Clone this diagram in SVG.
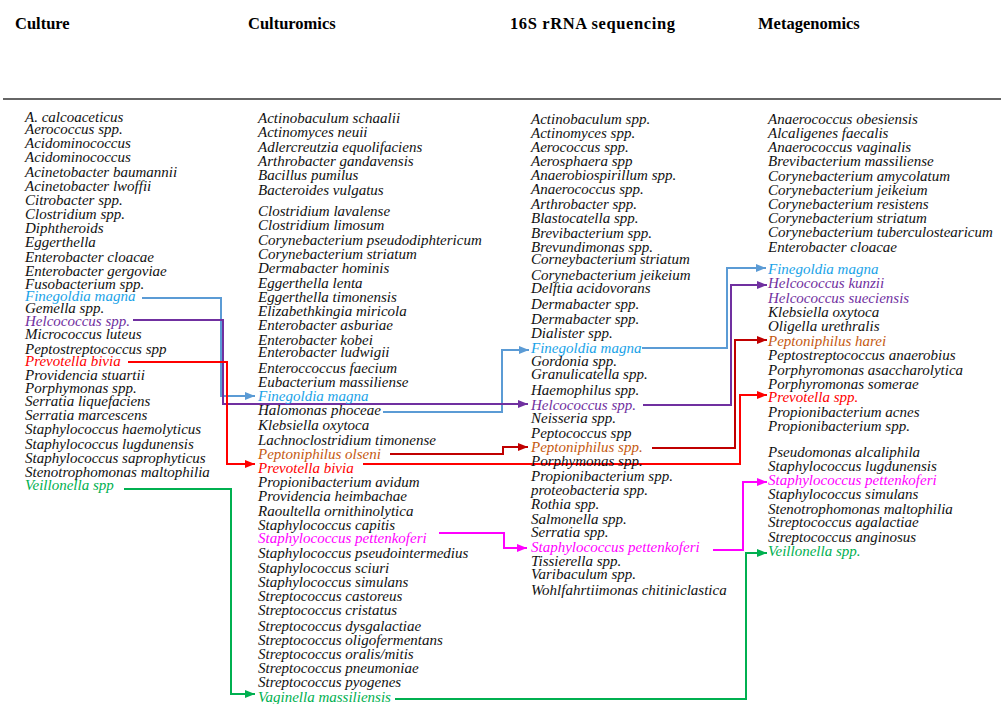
<svg xmlns="http://www.w3.org/2000/svg" width="1001" height="704" viewBox="0 0 1001 704">
<style>
text{font-family:"Liberation Serif","Times New Roman",serif;font-size:15px;font-style:italic;fill:#111}
.h{font-style:normal;font-weight:bold;font-size:16.5px;fill:#000}
.fb{fill:#1aa3e8}.pu{fill:#7030a0}.rd{fill:#ff0000}.or{fill:#c55a11}.mg{fill:#ff00ff}.gr{fill:#00b050}
.c{fill:none;stroke-width:2}
</style>
<defs>
<marker id="aB" markerWidth="10" markerHeight="8" refX="10" refY="4" orient="auto" markerUnits="userSpaceOnUse"><path d="M0,0L10,4L0,8z" fill="#5b9bd5"/></marker>
<marker id="aP" markerWidth="10" markerHeight="8" refX="10" refY="4" orient="auto" markerUnits="userSpaceOnUse"><path d="M0,0L10,4L0,8z" fill="#7030a0"/></marker>
<marker id="aR" markerWidth="10" markerHeight="8" refX="10" refY="4" orient="auto" markerUnits="userSpaceOnUse"><path d="M0,0L10,4L0,8z" fill="#ff0000"/></marker>
<marker id="aD" markerWidth="10" markerHeight="8" refX="10" refY="4" orient="auto" markerUnits="userSpaceOnUse"><path d="M0,0L10,4L0,8z" fill="#c00000"/></marker>
<marker id="aM" markerWidth="10" markerHeight="8" refX="10" refY="4" orient="auto" markerUnits="userSpaceOnUse"><path d="M0,0L10,4L0,8z" fill="#ff00ff"/></marker>
<marker id="aG" markerWidth="10" markerHeight="8" refX="10" refY="4" orient="auto" markerUnits="userSpaceOnUse"><path d="M0,0L10,4L0,8z" fill="#00b050"/></marker>
</defs>
<rect width="1001" height="704" fill="#fff"/>
<g id="headers">
<text class="h" x="15" y="29">Culture</text>
<text class="h" x="248" y="29">Culturomics</text>
<text class="h" x="510" y="29" textLength="165">16S rRNA sequencing</text>
<text class="h" x="758" y="29">Metagenomics</text>
<line x1="3" y1="99" x2="1001" y2="99" stroke="#333" stroke-width="1.5"/>
</g>
<g id="connectors">
<polyline class="c" stroke="#5b9bd5" points="142,298 221,298 221,396 255,396" marker-end="url(#aB)"/>
<polyline class="c" stroke="#5b9bd5" points="383,412 502,412 502,350 529,350" marker-end="url(#aB)"/>
<polyline class="c" stroke="#5b9bd5" points="642,348 727,348 727,268 766,268" marker-end="url(#aB)"/>
<polyline class="c" stroke="#7030a0" points="133,320 223,320 223,404 528,404" marker-end="url(#aP)"/>
<polyline class="c" stroke="#7030a0" points="643,405 731,405 731,285 767,285" marker-end="url(#aP)"/>
<polyline class="c" stroke="#ff0000" points="128,362 227,362 227,464 255,464" marker-end="url(#aR)"/>
<polyline class="c" stroke="#ff0000" points="363,464 740,464 740,395 767,395" marker-end="url(#aR)"/>
<polyline class="c" stroke="#c00000" points="390,454 503,454 503,447 528,447" marker-end="url(#aD)"/>
<polyline class="c" stroke="#c00000" points="652,448 735,448 735,340 767,340" marker-end="url(#aD)"/>
<polyline class="c" stroke="#ff00ff" points="439,533 504,533 504,548 527,548" marker-end="url(#aM)"/>
<polyline class="c" stroke="#ff00ff" points="713,550 743,550 743,482 767,482" marker-end="url(#aM)"/>
<polyline class="c" stroke="#00b050" points="124,489 231,489 231,694 255,694" marker-end="url(#aG)"/>
<polyline class="c" stroke="#00b050" points="395,699 746,699 746,553 767,553" marker-end="url(#aG)"/>
</g>
<g id="culture">
<text x="25" y="121.5">A. calcoaceticus</text>
<text x="25" y="133.5">Aerococcus spp.</text>
<text x="25" y="147.5">Acidominococcus</text>
<text x="25" y="161.5">Acidominococcus</text>
<text x="25" y="176.5">Acinetobacter baumannii</text>
<text x="25" y="190.5">Acinetobacter lwoffii</text>
<text x="25" y="204.5">Citrobacter spp.</text>
<text x="25" y="218.5">Clostridium spp.</text>
<text x="25" y="232.5">Diphtheroids</text>
<text x="25" y="246.5">Eggerthella</text>
<text x="25" y="261.5">Enterobacter cloacae</text>
<text x="25" y="275.5">Enterobacter gergoviae</text>
<text x="25" y="288.5">Fusobacterium spp.</text>
<text x="25" y="313">Gemella spp.</text>
<text x="25" y="339">Micrococcus luteus</text>
<text x="25" y="353.5">Peptostreptococcus spp</text>
<text x="25" y="379.5">Providencia stuartii</text>
<text x="25" y="392.5">Porphymonas spp.</text>
<text x="25" y="406">Serratia liquefaciens</text>
<text x="25" y="420">Serratia marcescens</text>
<text x="25" y="434">Staphylococcus haemolyticus</text>
<text x="25" y="448.5">Staphylococcus lugdunensis</text>
<text x="25" y="462.5">Staphylococcus saprophyticus</text>
<text x="25" y="477">Stenotrophomonas maltophilia</text>
</g>
<g id="cu-finegoldia"><text class="fb" x="25" y="301">Finegoldia magna</text></g>
<g id="cu-helcococcus"><text class="pu" x="25" y="325.5">Helcococcus spp.</text></g>
<g id="cu-prevotella"><text class="rd" x="25" y="365.5">Prevotella bivia</text></g>
<g id="cu-veillonella"><text class="gr" x="25" y="490">Veillonella spp</text></g>
<g id="culturomics">
<text x="258" y="122.5">Actinobaculum schaalii</text>
<text x="258" y="137">Actinomyces neuii</text>
<text x="258" y="151.5">Adlercreutzia equolifaciens</text>
<text x="258" y="165.5">Arthrobacter gandavensis</text>
<text x="258" y="180">Bacillus pumilus</text>
<text x="258" y="194.5">Bacteroides vulgatus</text>
<text x="258" y="215.5">Clostridium lavalense</text>
<text x="258" y="230">Clostridium limosum</text>
<text x="258" y="244.5">Corynebacterium pseudodiphtericum</text>
<text x="258" y="258.5">Corynebacterium striatum</text>
<text x="258" y="273">Dermabacter hominis</text>
<text x="258" y="287.5">Eggerthella lenta</text>
<text x="258" y="301.5">Eggerthella timonensis</text>
<text x="258" y="316">Elizabethkingia miricola</text>
<text x="258" y="329.5">Enterobacter asburiae</text>
<text x="258" y="344.5">Enterobacter kobei</text>
<text x="258" y="357">Enterobacter ludwigii</text>
<text x="258" y="372.5">Enteroccoccus faecium</text>
<text x="258" y="387">Eubacterium massiliense</text>
<text x="258" y="415">Halomonas phoceae</text>
<text x="258" y="430">Klebsiella oxytoca</text>
<text x="258" y="444.5">Lachnoclostridium timonense</text>
<text x="258" y="487">Propionibacterium avidum</text>
<text x="258" y="500.5">Providencia heimbachae</text>
<text x="258" y="516">Raoultella ornithinolytica</text>
<text x="258" y="529.5">Staphylococcus capitis</text>
<text x="258" y="558">Staphylococcus pseudointermedius</text>
<text x="258" y="572.5">Staphylococcus sciuri</text>
<text x="258" y="587">Staphylococcus simulans</text>
<text x="258" y="601">Streptococcus castoreus</text>
<text x="258" y="615">Streptococcus cristatus</text>
<text x="258" y="630.5">Streptococcus dysgalactiae</text>
<text x="258" y="644.5">Streptococcus oligofermentans</text>
<text x="258" y="659">Streptococcus oralis/mitis</text>
<text x="258" y="673">Streptococcus pneumoniae</text>
<text x="258" y="687">Streptococcus pyogenes</text>
</g>
<g id="cm-finegoldia"><text class="fb" x="258" y="401">Finegoldia magna</text></g>
<g id="cm-peptoniphilus"><text class="or" x="258" y="458.5">Peptoniphilus olseni</text></g>
<g id="cm-prevotella"><text class="rd" x="258" y="472.5">Prevotella bivia</text></g>
<g id="cm-staphylococcus"><text class="mg" x="258" y="543">Staphylococcus pettenkoferi</text></g>
<g id="cm-vaginella"><text class="gr" x="258" y="701.5">Vaginella massiliensis</text></g>
<g id="sequencing">
<text x="531" y="123.5">Actinobaculum spp.</text>
<text x="531" y="137.5">Actinomyces spp.</text>
<text x="531" y="151.5">Aerococcus spp.</text>
<text x="531" y="165.5">Aerosphaera spp</text>
<text x="531" y="180">Anaerobiospirillum spp.</text>
<text x="531" y="194">Anaerococcus spp.</text>
<text x="531" y="208.5">Arthrobacter spp.</text>
<text x="531" y="222.5">Blastocatella spp.</text>
<text x="531" y="237.5">Brevibacterium spp.</text>
<text x="531" y="251.5">Brevundimonas spp.</text>
<text x="531" y="263.5">Corneybacterium striatum</text>
<text x="531" y="280">Corynebacterium jeikeium</text>
<text x="531" y="292.5">Delftia acidovorans</text>
<text x="531" y="308.5">Dermabacter spp.</text>
<text x="531" y="323.5">Dermabacter spp.</text>
<text x="531" y="337.5">Dialister spp.</text>
<text x="531" y="366">Gordonia spp.</text>
<text x="531" y="379">Granulicatella spp.</text>
<text x="531" y="394.5">Haemophilus spp.</text>
<text x="531" y="423">Neisseria spp.</text>
<text x="531" y="438">Peptococcus spp</text>
<text x="531" y="466">Porphymonas spp.</text>
<text x="531" y="481">Propionibacterium spp.</text>
<text x="531" y="495">proteobacteria spp.</text>
<text x="531" y="509">Rothia spp.</text>
<text x="531" y="523.5">Salmonella spp.</text>
<text x="531" y="537">Serratia spp.</text>
<text x="531" y="565.5">Tissierella spp.</text>
<text x="531" y="578.5">Varibaculum spp.</text>
<text x="531" y="594.5">Wohlfahrtiimonas chitiniclastica</text>
</g>
<g id="sq-finegoldia"><text class="fb" x="531" y="352.5">Finegoldia magna</text></g>
<g id="sq-helcococcus"><text class="pu" x="531" y="409.5">Helcococcus spp.</text></g>
<g id="sq-peptoniphilus"><text class="or" x="531" y="452">Peptoniphilus spp.</text></g>
<g id="sq-staphylococcus"><text class="mg" x="531" y="552">Staphylococcus pettenkoferi</text></g>
<g id="metagenomics">
<text x="768" y="123.5">Anaerococcus obesiensis</text>
<text x="768" y="137.5">Alcaligenes faecalis</text>
<text x="768" y="152">Anaerococcus vaginalis</text>
<text x="768" y="166">Brevibacterium massiliense</text>
<text x="768" y="180.5">Corynebacterium amycolatum</text>
<text x="768" y="194.5">Corynebacterium jeikeium</text>
<text x="768" y="209">Corynebacterium resistens</text>
<text x="768" y="223">Corynebacterium striatum</text>
<text x="768" y="237">Corynebacterium tuberculostearicum</text>
<text x="768" y="252">Enterobacter cloacae</text>
<text x="768" y="317">Klebsiella oxytoca</text>
<text x="768" y="331">Oligella urethralis</text>
<text x="768" y="360">Peptostreptococcus anaerobius</text>
<text x="768" y="374.5">Porphyromonas asaccharolytica</text>
<text x="768" y="389">Porphyromonas somerae</text>
<text x="768" y="417">Propionibacterium acnes</text>
<text x="768" y="431">Propionibacterium spp.</text>
<text x="768" y="456.5">Pseudomonas alcaliphila</text>
<text x="768" y="470.5">Staphylococcus lugdunensis</text>
<text x="768" y="499">Staphylococcus simulans</text>
<text x="768" y="513.5">Stenotrophomonas maltophilia</text>
<text x="768" y="527">Streptococcus agalactiae</text>
<text x="768" y="542">Streptococcus anginosus</text>
</g>
<g id="mg-finegoldia"><text class="fb" x="768" y="274">Finegoldia magna</text></g>
<g id="mg-helcococcus-kunzii"><text class="pu" x="768" y="288">Helcococcus kunzii</text></g>
<g id="mg-helcococcus-sueciensis"><text class="pu" x="768" y="302.5">Helcococcus sueciensis</text></g>
<g id="mg-peptoniphilus"><text class="or" x="768" y="346">Peptoniphilus harei</text></g>
<g id="mg-prevotella"><text class="rd" x="768" y="402">Prevotella spp.</text></g>
<g id="mg-staphylococcus"><text class="mg" x="768" y="485">Staphylococcus pettenkoferi</text></g>
<g id="mg-veillonella"><text class="gr" x="768" y="556">Veillonella spp.</text></g>
</svg>
